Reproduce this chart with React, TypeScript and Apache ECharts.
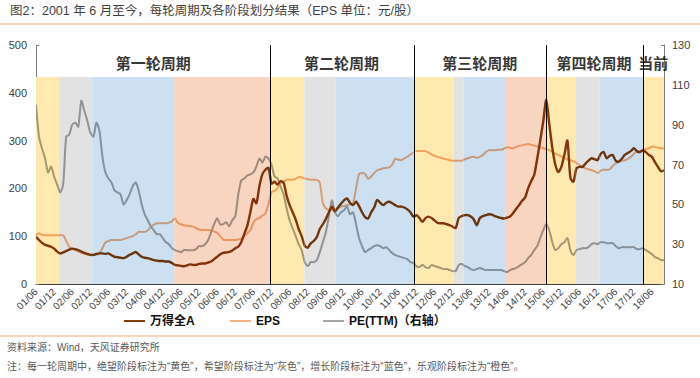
import React, { useEffect, useRef } from "react";
import * as echarts from "echarts";

const START_YEAR = 2001;
const START_MONTH = 6;

// 万得全A (index, left axis), monthly from 2001/06
const windA = [
  99, 92, 86, 82, 80, 78, 74, 68, 64, 66, 69, 72,
  74, 73, 71, 68, 65, 63, 61, 61, 63, 64, 64, 63,
  64, 60, 57, 56, 55, 54, 57, 61, 64, 67, 62, 57,
  55, 54, 52, 50, 49, 48, 48, 47, 47, 44, 40, 39,
  38, 37, 39, 41, 40, 40, 42, 43, 43, 45, 47, 52,
  57, 62, 65, 66, 67, 70, 75, 78, 88, 105, 122, 150,
  178, 169, 205, 230, 239, 243, 210, 214, 208, 215, 212, 185,
  165, 150, 135, 115, 100, 80, 76, 85, 90, 98, 115, 125,
  136, 150, 162, 152, 160, 168, 175, 179, 170, 165, 172, 163,
  150, 140, 137, 150, 160, 176, 170, 165, 170, 172, 169, 165,
  162, 162, 160, 156, 150, 141, 144, 138, 130, 138, 141, 138,
  133, 128, 127, 127, 125, 123, 120, 117, 138, 142, 144, 144,
  141, 135, 123, 138, 142, 144, 146, 145, 142, 140, 138, 137,
  139, 141, 148, 157, 165, 174, 181, 200, 215, 228, 262, 300,
  340, 385, 335, 285, 250, 234, 245, 270, 300, 222, 214, 242,
  245, 245, 252, 258, 263, 261, 259, 272, 276, 263, 268, 270,
  258, 256, 262, 270, 274, 278, 284, 278, 276, 280, 276, 270,
  266, 255, 245, 236, 238,
];

// EPS (index, left axis)
const eps = [
  102, 106, 103, 102, 102, 102, 102, 102, 102, 102, 90, 78,
  73, 71, 68, 65, 63, 61, 61, 61, 61, 64, 75, 87,
  90, 92, 92, 92, 92, 94, 96, 98, 100, 104, 109, 109,
  109, 112, 120, 124, 127, 127, 127, 127, 128, 131, 137, 128,
  125, 123, 122, 121, 120, 117, 114, 113, 113, 113, 112, 110,
  107, 100, 93, 92, 92, 92, 92, 93, 95, 100, 106, 113,
  128, 136, 138, 143, 148, 168, 192, 195, 200, 210, 214, 218,
  218, 218, 220, 224, 223, 221, 219, 218, 218, 218, 212, 170,
  158, 155, 155, 155, 158, 162, 163, 165, 167, 169, 200, 230,
  232, 230, 220, 225, 232, 238, 240, 242, 243, 244, 250, 262,
  260, 259, 263, 266, 271, 275, 278, 278, 278, 278, 275, 271,
  268, 266, 264, 262, 261, 259, 258, 258, 258, 258, 261, 263,
  265, 266, 264, 266, 270, 276, 280, 280, 280, 281, 281, 283,
  286, 285, 284, 287, 289, 290, 292, 293, 291, 290, 288, 286,
  284, 282, 280, 277, 273, 270, 267, 264, 261, 259, 257, 253,
  249, 245, 242, 240, 238, 236, 232, 237, 239, 239, 240, 247,
  252, 256, 258, 259, 262, 266, 272, 277, 277, 279, 282, 284,
  287, 287, 285, 284, 284,
];

// PE(TTM) (right axis)
const pe = [
  100, 84, 78, 73, 66, 69, 64, 60, 56, 60, 84, 85,
  90, 91, 89, 102, 97, 92, 86, 84, 91, 87, 74, 66,
  63, 61, 57, 56, 55, 50, 52, 55, 59, 61, 57, 50,
  45, 42, 39, 37, 35, 35, 33, 31, 30, 28, 27, 26.5,
  26, 27, 27, 27, 27, 27.5, 29, 29, 30, 32, 36, 40,
  43, 40, 40, 41, 39, 42, 44, 55, 62, 63, 64.5, 65,
  66, 69, 73, 71, 74, 73, 70, 64, 63, 59, 55, 48,
  42, 38, 34, 30, 27, 21, 19, 21, 21, 22, 26, 31,
  36, 44, 52, 46, 44, 46, 47, 49, 45, 46, 40, 33,
  29, 26, 27, 28, 29, 29.5, 29, 28, 28.5, 27, 25.5, 24.5,
  24, 23.5, 23, 22.5, 21, 20.5, 19, 18.5, 19.5, 18.5, 18, 19.5,
  19, 18.5, 18, 17.5, 17.5, 17, 16.5, 16.5, 19.5, 20, 19, 18.5,
  17.5, 17, 17.5, 18, 17.5, 17, 17, 17, 17, 17, 17, 16.5,
  16, 17, 17.5, 18, 19, 20, 21, 23, 24.5, 27, 29, 33,
  37, 40, 37, 31, 27, 28, 30, 31, 33, 27, 24.5, 27,
  27.5, 28, 28, 28.5, 30, 30.5, 30, 31, 31, 30.5, 30.5, 30.5,
  29, 28, 28.5, 28.5, 28.5, 28.5, 28.5, 27.5, 27.5, 28, 27, 26,
  25, 23.5, 23, 22, 22,
];

// phases: 0 绝望(黄), 1 希望(灰), 2 增长(蓝), 3 乐观(橙)
const phaseColors = ["#FFE9AE", "#E2E2E2", "#CDE0F2", "#F8D5C1"];
const bandStart = [0, 7.6, 18.6, 45.8, 77.6, 88.9, 99.2, 125.2, 138.3, 141.6, 155.3, 168.9, 178.6, 186.6, 201.2];
const bandEnd = [7.6, 18.6, 45.8, 77.6, 88.9, 99.2, 125.2, 138.3, 141.6, 155.3, 168.9, 178.6, 186.6, 201.2, 208];
const bandPhase = [0, 1, 2, 3, 0, 1, 2, 0, 1, 2, 3, 0, 1, 2, 0];
const BAND_TOP = 433;

const dividers = [77.6, 125.2, 168.9, 201.2];
const cycleNames = ["第一轮周期", "第二轮周期", "第三轮周期", "第四轮周期", "当前"];
const cycleCenters = [38.8, 101.2, 147, 184.8, 204.4];
const CYCLE_LABEL_Y = 462;

const lineNames = ["万得全A", "EPS", "PE(TTM)（右轴）"];
const lineColors = ["#843C0C", "#F4B183", "#A5A5A5"];
const lineWidths = [2.4, 2, 2];
const lineAxes = [0, 0, 1];
const lineValues = [windA, eps, pe];

const FONT = "'Liberation Sans', Arial, 'Noto Sans CJK SC', sans-serif";

function monthLabel(v: number): string {
  if (v % 6 !== 0) return "";
  const m = START_MONTH - 1 + v;
  const y = START_YEAR + Math.floor(m / 12);
  const mm = (m % 12) + 1;
  return String(y % 100).padStart(2, "0") + "/" + String(mm).padStart(2, "0");
}

function hexRgb(h: string): number[] {
  const n = parseInt(h.slice(1), 16);
  return [(n >> 16) & 255, (n >> 8) & 255, n & 255];
}
function multiply(a: string, b: string): string {
  const x = hexRgb(a);
  const y = hexRgb(b);
  return `rgb(${Math.round((x[0] * y[0]) / 255)},${Math.round((x[1] * y[1]) / 255)},${Math.round((x[2] * y[2]) / 255)})`;
}

export default function App() {
  const ref = useRef<HTMLDivElement>(null);
  useEffect(() => {
    if (!ref.current) return;
    const chart = echarts.init(ref.current, undefined, { renderer: "svg" });
    const bandData = bandStart.map((s, i) => [s, bandEnd[i], bandPhase[i], 0]);
    const legendCommon = {
      top: 315,
      padding: 0,
      itemWidth: 21,
      itemHeight: 2,
      icon: "rect",
      textStyle: { fontSize: 12, fontWeight: "bold" as const, color: "#111", fontFamily: FONT },
    };
    const lineSeries = lineNames.map((name, k) => ({
      name,
      type: "custom",
      yAxisIndex: lineAxes[k],
      z: 4 - (k === 0 ? 0 : 1),
      silent: true,
      color: lineColors[k],
      itemStyle: { color: lineColors[k] },
      data: bandData,
      encode: { x: [0, 1], y: 3 },
      renderItem: (params: any, api: any) => {
        const cs = params.coordSys;
        const vals = lineValues[k];
        const pts = vals.map((v, i) => api.coord([i, v]));
        const x0 = api.coord([api.value(0), 0])[0];
        const x1 = api.coord([api.value(1), 0])[0];
        return {
          type: "polyline",
          shape: { points: pts, smooth: 0.25 },
          style: {
            fill: "none",
            stroke: multiply(lineColors[k], phaseColors[api.value(2)]),
            lineWidth: lineWidths[k],
            lineJoin: "round",
          },
          clipPath: {
            type: "rect",
            shape: { x: x0, y: cs.y - 5, width: x1 - x0, height: cs.height + 10 },
          },
        };
      },
    }));
    chart.setOption({
      animation: false,
      grid: { left: 36, right: 36, top: 45, bottom: 94 },
      legend: [
        { ...legendCommon, left: 124, data: [lineNames[0]] },
        { ...legendCommon, left: 230, data: [lineNames[1]] },
        { ...legendCommon, left: 323, data: [lineNames[2]] },
      ],
      xAxis: {
        type: "value",
        min: 0,
        max: bandEnd[bandEnd.length - 1],
        interval: 6,
        splitLine: { show: false },
        axisLine: { lineStyle: { color: "#404040", width: 1 } },
        axisTick: { inside: true, length: 3, lineStyle: { color: "#404040" } },
        axisLabel: {
          rotate: 45,
          fontSize: 10,
          color: "#404040",
          margin: 6,
          fontFamily: FONT,
          showMaxLabel: false,
          formatter: (v: number) => monthLabel(v),
        },
      },
      yAxis: [
        {
          type: "value",
          min: 0,
          max: 500,
          interval: 100,
          splitLine: { show: false },
          axisLine: { show: true, lineStyle: { color: "#7f7f7f" } },
          axisTick: { show: true, inside: true, length: 3, lineStyle: { color: "#7f7f7f" } },
          axisLabel: { fontSize: 11, color: "#404040", margin: 9, fontFamily: FONT },
        },
        {
          type: "value",
          min: 10,
          max: 130,
          interval: 20,
          position: "right",
          splitLine: { show: false },
          axisLine: { show: true, lineStyle: { color: "#7f7f7f" } },
          axisTick: { show: true, inside: true, length: 3, lineStyle: { color: "#7f7f7f" } },
          axisLabel: { fontSize: 11, color: "#404040", margin: 8, fontFamily: FONT },
        },
      ],
      series: [
        {
          name: "bands",
          type: "custom",
          yAxisIndex: 0,
          z: 1,
          silent: true,
          data: bandStart.map((s, i) => [s, bandEnd[i], BAND_TOP, bandPhase[i]]),
          encode: { x: [0, 1], y: 2 },
          renderItem: (params: any, api: any) => {
            const p0 = api.coord([api.value(0), api.value(2)]);
            const p1 = api.coord([api.value(1), 0]);
            return {
              type: "rect",
              shape: { x: p0[0], y: p0[1], width: p1[0] - p0[0], height: p1[1] - p0[1] },
              style: { fill: phaseColors[api.value(3)] },
            };
          },
        },
        ...lineSeries,
        {
          name: "cycles",
          type: "scatter",
          yAxisIndex: 0,
          z: 15,
          silent: true,
          symbolSize: 1,
          itemStyle: { color: "transparent" },
          data: cycleNames.map((n, i) => ({ name: n, value: [cycleCenters[i], CYCLE_LABEL_Y] })),
          label: {
            show: true,
            position: "inside",
            formatter: "{b}",
            fontSize: 15,
            fontWeight: "bold",
            color: "#000",
            fontFamily: FONT,
          },
          markLine: {
            z: 15,
            silent: true,
            symbol: "none",
            label: { show: false },
            lineStyle: { color: "#000", width: 1, type: "solid" },
            data: dividers.map((d) => ({ xAxis: d })),
          },
        },
      ],
      graphic: [
        {
          type: "text",
          left: 10,
          top: 5,
          style: {
            text: "图2：2001 年 6 月至今，每轮周期及各阶段划分结果（EPS 单位：元/股）",
            fontSize: 12.5,
            fill: "#404040",
            fontFamily: FONT,
          },
        },
        {
          type: "line",
          shape: { x1: 0, y1: 24, x2: 700, y2: 24 },
          style: { stroke: "#F2C8A2", lineWidth: 1.5 },
        },
        {
          type: "line",
          shape: { x1: 0, y1: 336, x2: 700, y2: 336 },
          style: { stroke: "#F2C8A2", lineWidth: 1.5 },
        },
        {
          type: "text",
          left: 7,
          top: 342,
          style: { text: "资料来源：Wind，天风证券研究所", fontSize: 10, fill: "#595959", fontFamily: FONT },
        },
        {
          type: "text",
          left: 7,
          top: 361,
          style: {
            text: "注：每一轮周期中，绝望阶段标注为“黄色”，希望阶段标注为“灰色”，增长阶段标注为“蓝色”，乐观阶段标注为“橙色”。",
            fontSize: 10,
            fill: "#595959",
            fontFamily: FONT,
          },
        },
      ],
    });
    return () => chart.dispose();
  }, []);
  return (
    <div
      ref={ref}
      style={{ position: "fixed", left: 0, top: 0, width: 700, height: 378, background: "#fff" }}
    />
  );
}
